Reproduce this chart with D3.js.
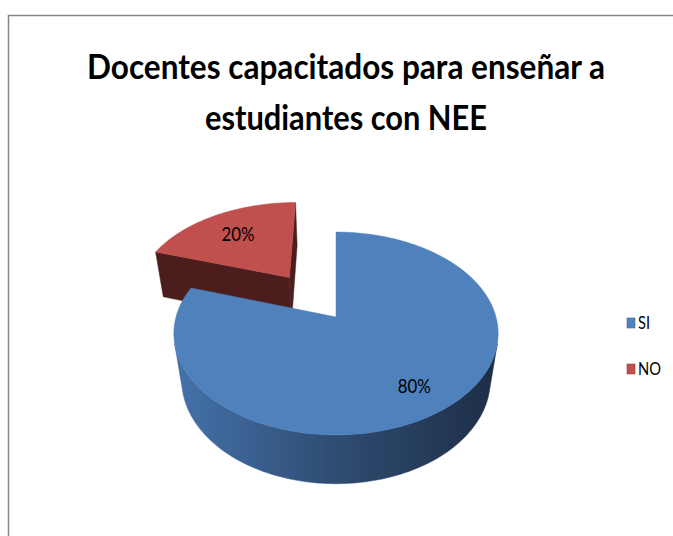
<!DOCTYPE html>
<html>
<head>
<meta charset="utf-8">
<script src="https://cdn.jsdelivr.net/npm/d3@7"></script>
<style>
  body { margin: 0; background: #fff; }
  svg { display: block; }
</style>
</head>
<body>
<div id="chart"></div>
<script>
// data
const categories = ["SI", "NO"];
const values = [80, 20];
const labels = ["80%", "20%"];
const titleLines = ["Docentes capacitados para enseñar a", "estudiantes con NEE"];

const width = 673, height = 536;
const topColors = ["#4f81bd", "#c0504d"];
const explodeBy = [0, 0.53]; // NO slice is pulled out

// fake 3D view (tilted disk seen in perspective)
const view = { cx: 336, cy: 317, s: 160, sinP: 0.617, cosP: 0.788, dist: 4.85, h: 0.39 };

function project(X, Y, Z) {
  const up = Y * view.sinP + Z * view.cosP;
  const dep = Y * view.cosP - Z * view.sinP;
  const k = view.dist / (view.dist + dep);
  return [view.cx + view.s * k * X, view.cy - view.s * k * up];
}

function area(pts) {
  let a = 0;
  for (let i = 0; i < pts.length; i++) {
    const p = pts[i], q = pts[(i + 1) % pts.length];
    a += p[0] * q[1] - q[0] * p[1];
  }
  return a / 2;
}

const svg = d3.select("#chart").append("svg")
  .attr("width", width).attr("height", height);

// frame of the chart area (runs past the right and bottom edges)
svg.append("rect")
  .attr("x", 8.5).attr("y", 15.5)
  .attr("width", 700).attr("height", 560)
  .attr("fill", "none").attr("stroke", "#868686").attr("stroke-width", 1.5);

// title
svg.selectAll("text.title")
  .data(titleLines)
  .join("text")
  .attr("class", "title")
  .attr("x", 346)
  .attr("y", (d, i) => 79 + i * 51)
  .attr("text-anchor", "middle")
  .attr("textLength", (d, i) => i === 0 ? 518 : 282)
  .attr("lengthAdjust", "spacingAndGlyphs")
  .style("font-family", "Lato, 'Open Sans', sans-serif")
  .style("font-weight", "bold")
  .style("font-size", "34px")
  .style("fill", "#000")
  .text(d => d);

// gradients for the side walls
const defs = svg.append("defs");
const sideGrad = defs.append("linearGradient")
  .attr("id", "side-blue")
  .attr("gradientUnits", "userSpaceOnUse")
  .attr("x1", 175).attr("x2", 497).attr("y1", 0).attr("y2", 0);
sideGrad.append("stop").attr("offset", 0).attr("stop-color", "#4472aa");
sideGrad.append("stop").attr("offset", 0.5).attr("stop-color", "#2f4c72");
sideGrad.append("stop").attr("offset", 1).attr("stop-color", "#1d2e46");

const sideColors = ["url(#side-blue)", "#4b1e1d"];
const cutColors = ["#2f4c72", "#4b1e1d"];

const pie = d3.pie().sort(null).value(d => d);
const arcs = pie(values);

const line = d3.line();
const g = svg.append("g");

// draw the exploded slice first, the big one is in front of it
const order = [1, 0];
order.forEach(i => {
  const a = arcs[i];
  const mid = (a.startAngle + a.endAngle) / 2;
  const ox = Math.sin(mid) * explodeBy[i];
  const oy = Math.cos(mid) * explodeBy[i];
  const P = (ang, z, r = 1) => project(ox + r * Math.sin(ang), oy + r * Math.cos(ang), z);
  const C = z => project(ox, oy, z);
  const steps = Math.max(8, Math.round((a.endAngle - a.startAngle) / (Math.PI / 180)));
  const angs = d3.range(steps + 1).map(j => a.startAngle + (a.endAngle - a.startAngle) * j / steps);

  const top = [C(0)].concat(angs.map(t => P(t, 0)));
  const front = Math.sign(area(top));
  const h = -view.h;

  // cut faces
  const startFace = [P(a.startAngle, 0), C(0), C(h), P(a.startAngle, h)];
  const endFace = [C(0), P(a.endAngle, 0), P(a.endAngle, h), C(h)];
  [startFace, endFace].forEach(f => {
    if (Math.sign(area(f)) === front) {
      g.append("path").attr("d", line(f) + "Z")
        .attr("fill", cutColors[i]).attr("stroke", cutColors[i]).attr("stroke-width", 0.5);
    }
  });

  // outer wall, only the parts turned to the viewer
  const vis = [];
  for (let j = 0; j < steps; j++) {
    const q = [P(angs[j + 1], 0), P(angs[j], 0), P(angs[j], h), P(angs[j + 1], h)];
    vis.push(Math.sign(area(q)) === front);
  }
  let j = 0;
  while (j < steps) {
    if (!vis[j]) { j++; continue; }
    let k = j;
    while (k < steps && vis[k]) k++;
    const seg = angs.slice(j, k + 1);
    const pts = seg.map(t => P(t, 0)).concat(seg.slice().reverse().map(t => P(t, h)));
    g.append("path").attr("d", line(pts) + "Z")
      .attr("fill", sideColors[i]).attr("stroke", sideColors[i]).attr("stroke-width", 0.5);
    j = k;
  }

  // top face
  g.append("path").attr("d", line(top) + "Z")
    .attr("fill", topColors[i]).attr("stroke", topColors[i]).attr("stroke-width", 0.5);
});

// data labels
arcs.forEach((a, i) => {
  const mid = (a.startAngle + a.endAngle) / 2;
  const r = 0.75 + explodeBy[i];
  const p = project(Math.sin(mid) * r, Math.cos(mid) * r, 0);
  svg.append("text")
    .attr("x", p[0] + (i === 1 ? 5 : 0))
    .attr("y", p[1] + (i === 1 ? 5 : 3))
    .attr("dy", "0.35em")
    .attr("text-anchor", "middle")
    .attr("textLength", 33)
    .attr("lengthAdjust", "spacingAndGlyphs")
    .style("font-family", "Lato, 'Open Sans', sans-serif")
    .style("font-size", "19px")
    .style("fill", "#000")
    .text(labels[i]);
});

// legend
const legend = svg.append("g").attr("transform", "translate(627, 323)");
const items = legend.selectAll("g")
  .data(categories)
  .join("g")
  .attr("transform", (d, i) => `translate(0, ${i * 46})`);
items.append("rect")
  .attr("x", 0).attr("y", -5)
  .attr("width", 8).attr("height", 10)
  .attr("fill", (d, i) => topColors[i])
  .attr("stroke", (d, i) => d3.color(topColors[i]).darker(0.6))
  .attr("stroke-width", 0.6);
items.append("text")
  .attr("x", 11).attr("y", 0)
  .attr("dy", "0.36em")
  .attr("textLength", (d, i) => i === 0 ? 12 : 23)
  .attr("lengthAdjust", "spacingAndGlyphs")
  .style("font-family", "Lato, 'Open Sans', sans-serif")
  .style("font-size", "18px")
  .style("fill", "#000")
  .text(d => d);
</script>
</body>
</html>
